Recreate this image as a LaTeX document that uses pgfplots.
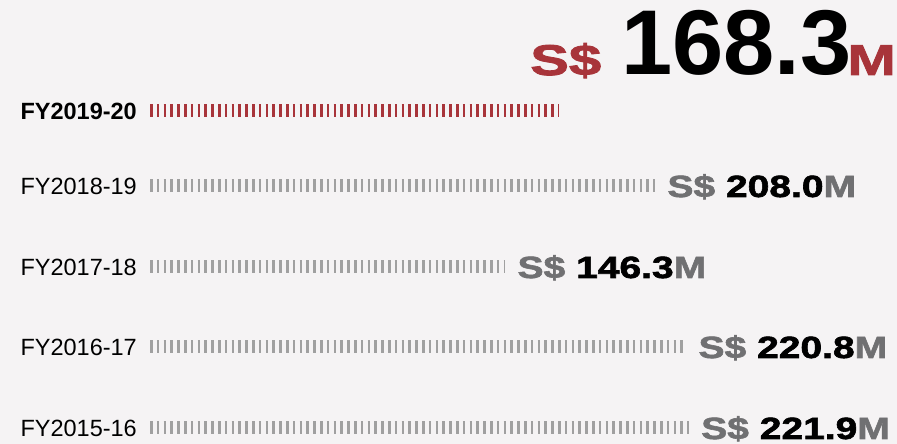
\documentclass[border=0pt]{standalone}
\usepackage{pgfplots}
\pgfplotsset{compat=1.18}
\usepackage{fontspec}
\setmainfont{Liberation Sans}
\newfontfamily\heavy{Liberation Sans}[FakeStretch=1.27,FakeBold=2]
\newfontfamily\heavyw{Liberation Sans}[FakeStretch=1.35,FakeBold=2]
\definecolor{bg}{RGB}{245,243,244}
\definecolor{myred}{RGB}{168,52,58}
\definecolor{tickgray}{RGB}{160,160,160}
\definecolor{txtgray}{RGB}{112,112,114}
\newcommand\val[1]{{\heavy\bfseries\fontsize{30.7}{31}\selectfont\textcolor{txtgray}{S\$} #1\textcolor{txtgray}{M}}}
\newcommand\lab[1]{{\fontsize{23.5}{24}\selectfont #1}}
\begin{document}
\begin{tikzpicture}[x=1pt,y=1pt]
\fill[bg] (0,0) rectangle (897,444);
\begin{axis}[at={(150pt,0pt)}, anchor=south west, scale only axis,
  width=747pt, height=444pt, xmin=0, xmax=307.5, ymin=-444, ymax=0,
  hide axis, clip=false,
  tickbar/.style={line width=13pt, line cap=butt, dash pattern=on 2.5pt off 4.3pt, forget plot}]
\addplot[tickbar, myred] coordinates {(0,-111) (168.3,-111)};
\addplot[tickbar, tickgray] coordinates {(0,-186) (208.0,-186)};
\addplot[tickbar, tickgray] coordinates {(0,-267) (146.3,-267)};
\addplot[tickbar, tickgray] coordinates {(0,-347) (220.8,-347)};
\addplot[tickbar, tickgray] coordinates {(0,-428) (221.9,-428)};
\node[anchor=east, inner sep=0, xshift=-13pt] at (axis cs:0,-111) {\lab{\bfseries FY2019-20}};
\node[anchor=east, inner sep=0, xshift=-13pt] at (axis cs:0,-186) {\lab{FY2018-19}};
\node[anchor=east, inner sep=0, xshift=-13pt] at (axis cs:0,-267) {\lab{FY2017-18}};
\node[anchor=east, inner sep=0, xshift=-13pt] at (axis cs:0,-347) {\lab{FY2016-17}};
\node[anchor=east, inner sep=0, xshift=-13pt] at (axis cs:0,-428) {\lab{FY2015-16}};
\node[anchor=base west, inner sep=0, xshift=12pt, yshift=-11pt] at (axis cs:208.0,-186) {\val{208.0}};
\node[anchor=base west, inner sep=0, xshift=12pt, yshift=-11pt] at (axis cs:146.3,-267) {\val{146.3}};
\node[anchor=base west, inner sep=0, xshift=12pt, yshift=-11pt] at (axis cs:220.8,-347) {\val{220.8}};
\node[anchor=base west, inner sep=0, xshift=12pt, yshift=-11pt] at (axis cs:221.9,-428) {\val{221.9}};
\node[anchor=base east, inner sep=0, xshift=-1pt] at (axis cs:307.5,-75)
  {{\heavyw\bfseries\fontsize{43}{43}\selectfont\color{myred}S\$}\hspace{20pt}{\bfseries\fontsize{92}{92}\selectfont 168.3}\hspace{-4pt}{\heavyw\bfseries\fontsize{43}{43}\selectfont\color{myred}M}};
\end{axis}
\end{tikzpicture}
\end{document}
